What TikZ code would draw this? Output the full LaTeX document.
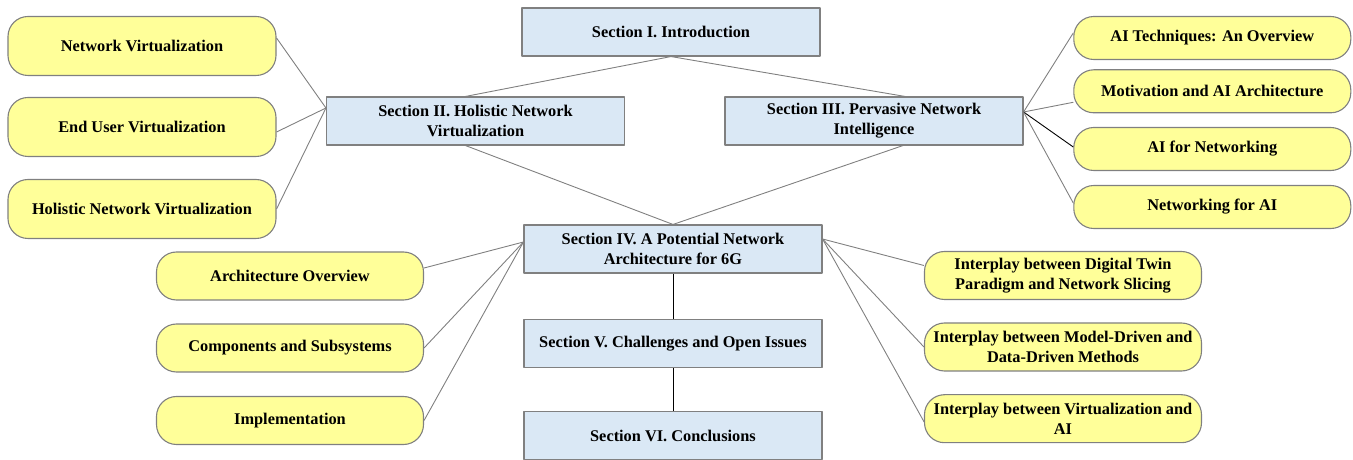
\documentclass[tikz,border=0pt]{standalone}
\usepackage{fontspec}
\setmainfont{Liberation Serif}
\usetikzlibrary{arrows.meta}
\definecolor{secfill}{RGB}{218,232,245}
\definecolor{subfill}{RGB}{255,255,153}
\definecolor{edgegray}{RGB}{128,128,128}

\begin{document}
\begin{tikzpicture}[>=latex,line join=bevel,
  secbox/.style={draw=edgegray,line width=1.1bp,fill=secfill,minimum width=298bp,minimum height=48bp,
    align=center,inner sep=0pt,font=\fontsize{16.4}{20}\selectfont\bfseries},
  subbox/.style={draw=edgegray,line width=1.1bp,fill=subfill,rounded corners=20bp,
    align=center,inner sep=0pt,font=\fontsize{16.4}{20}\selectfont\bfseries},
  link/.style={edgegray,line width=0.9bp}]
\useasboundingbox (0bp,0bp) rectangle (1353bp,460bp);
%% sections
\node (sec_1) at (671bp,428bp) [secbox] {Section I. Introduction};
  \node (sec_2) at (475.5bp,339bp) [secbox] {Section II. Holistic Network\\Virtualization};
  \node (sec_3) at (874bp,339bp) [secbox] {Section III. Pervasive Network\\Intelligence};
  \node (sec_4) at (673bp,211bp) [secbox] {Section IV. A Potential Network\\Architecture for 6G};
  \node (sec_5) at (673bp,116.5bp) [secbox] {Section V. Challenges and Open Issues};
  \node (sec_6) at (673bp,24.5bp) [secbox] {Section VI. Conclusions};
%% subsections
\node (sub_21) at (142bp,414bp) [subbox,minimum width=268bp,minimum height=59bp] {Network Virtualization};
  \node (sub_22) at (142bp,333bp) [subbox,minimum width=268bp,minimum height=59bp] {End User Virtualization};
  \node (sub_23) at (142bp,251bp) [subbox,minimum width=268bp,minimum height=59bp] {Holistic Network Virtualization};
  \node (sub_31) at (1212.3bp,422bp) [subbox,minimum width=277bp,minimum height=43bp] {AI Techniques: An Overview};
  \node (sub_32) at (1212.3bp,368.7bp) [subbox,minimum width=277bp,minimum height=43bp] {Motivation and AI Architecture};
  \node (sub_33) at (1212.3bp,311bp) [subbox,minimum width=277bp,minimum height=43bp] {AI for Networking};
  \node (sub_34) at (1212.3bp,253bp) [subbox,minimum width=277bp,minimum height=43bp] {Networking for AI};
  \node (sub_41) at (290bp,184bp) [subbox,minimum width=267bp,minimum height=48bp] {Architecture Overview};
  \node (sub_42) at (290bp,112bp) [subbox,minimum width=267bp,minimum height=48bp] {Components and Subsystems};
  \node (sub_43) at (290bp,39.5bp) [subbox,minimum width=267bp,minimum height=48bp] {Implementation};
  \node (sub_44) at (1063bp,184.5bp) [subbox,minimum width=277bp,minimum height=48bp] {Interplay between Digital Twin\\Paradigm and Network Slicing};
  \node (sub_45) at (1063bp,113bp) [subbox,minimum width=277bp,minimum height=48bp] {Interplay between Model-Driven and\\Data-Driven Methods};
  \node (sub_46) at (1063bp,41.3bp) [subbox,minimum width=277bp,minimum height=48bp] {Interplay between Virtualization and\\AI};
%% links
\draw [link] (sec_1.south) -- ([xshift=-10bp]sec_2.north);
  \draw [link] (sec_1.south) -- ([xshift=31bp]sec_3.north);
  \draw [link] ([xshift=-10bp]sec_2.south) -- (sec_4.north);
  \draw [link] ([xshift=29bp]sec_3.south) -- (sec_4.north);
  \draw [black,line width=0.9bp] (sec_4) -- (sec_5);
  \draw [black,line width=0.9bp] (sec_5) -- (sec_6);
%
\draw [link] ([yshift=8bp]sub_21.east) -- ([yshift=13bp]sec_2.west);
  \draw [link] ([yshift=-5bp]sub_22.east) -- ([yshift=13bp]sec_2.west);
  \draw [link] (sub_23.east) -- ([yshift=13bp]sec_2.west);
%
\draw [link] ([yshift=9bp]sec_3.east) -- ([yshift=5bp]sub_31.west);
  \draw [link] ([yshift=9bp]sec_3.east) -- ([yshift=-11bp]sub_32.west);
  \draw [black,line width=0.9bp] ([yshift=9bp]sec_3.east) -- ([yshift=2bp]sub_33.west);
  \draw [link] ([yshift=9bp]sec_3.east) -- ([yshift=4bp]sub_34.west);
%
\draw [link] ([yshift=8bp]sub_41.east) -- ([yshift=7bp]sec_4.west);
  \draw [link] (sub_42.east) -- ([yshift=7bp]sec_4.west);
  \draw [link] (sub_43.east) -- ([yshift=7bp]sec_4.west);
%
\draw [link] ([yshift=10bp]sec_4.east) -- ([yshift=10bp]sub_44.west);
  \draw [link] ([yshift=10bp]sec_4.east) -- (sub_45.west);
  \draw [link] ([yshift=10bp]sec_4.east) -- ([yshift=-3bp]sub_46.west);
%
\end{tikzpicture}
\end{document}
